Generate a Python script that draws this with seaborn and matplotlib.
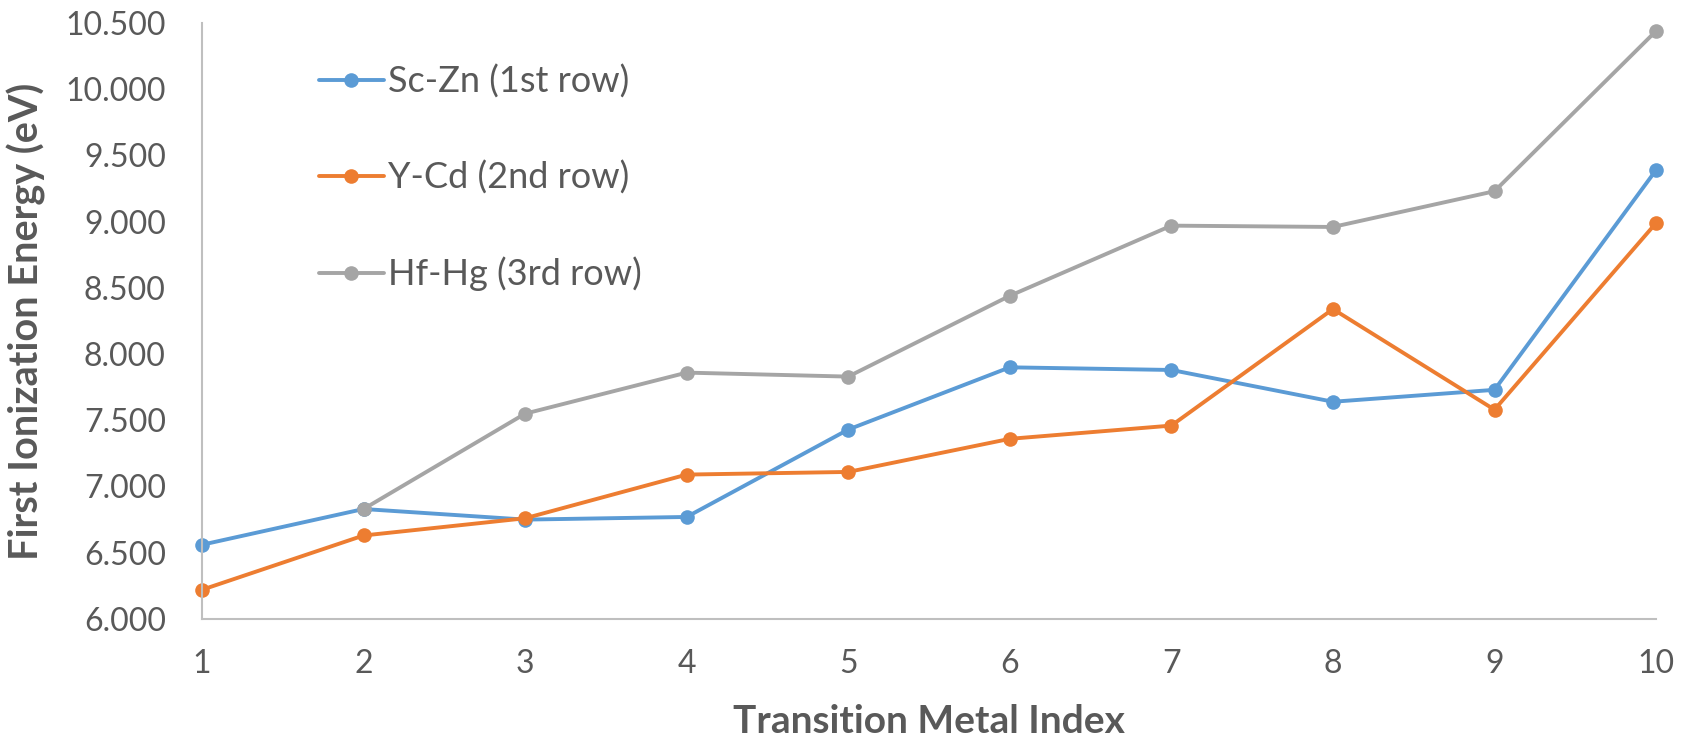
import matplotlib
matplotlib.use("Agg")
import matplotlib.pyplot as plt
import seaborn as sns
import pandas as pd
from matplotlib.ticker import FormatStrFormatter

# First ionization energies (eV) by position in each transition-metal row
index_1st = [1, 2, 3, 4, 5, 6, 7, 8, 9, 10]
sc_zn = [6.56, 6.83, 6.75, 6.77, 7.43, 7.90, 7.88, 7.64, 7.73, 9.39]

index_2nd = [1, 2, 3, 4, 5, 6, 7, 8, 9, 10]
y_cd = [6.22, 6.63, 6.76, 7.09, 7.11, 7.36, 7.46, 8.34, 7.58, 8.99]

index_3rd = [2, 3, 4, 5, 6, 7, 8, 9, 10]
hf_hg = [6.83, 7.55, 7.86, 7.83, 8.44, 8.97, 8.96, 9.23, 10.44]

series_names = ["Sc-Zn (1st row)", "Y-Cd (2nd row)", "Hf-Hg (3rd row)"]
series_colors = ["#5B9BD5", "#ED7D31", "#A5A5A5"]
x_ticks = list(range(1, 11))
y_ticks = [6.0, 6.5, 7.0, 7.5, 8.0, 8.5, 9.0, 9.5, 10.0, 10.5]

sns.set_style("white")
plt.rcParams["font.family"] = ["Lato", "DejaVu Sans"]

text_color = "#595959"
axis_color = "#BFBFBF"

fig = plt.figure(figsize=(16.83, 7.43), dpi=100)
ax = fig.add_axes([0.120, 0.167, 0.864, 0.802])

for xs, ys, name, color in zip(
    [index_1st, index_2nd, index_3rd],
    [sc_zn, y_cd, hf_hg],
    series_names,
    series_colors,
):
    df = pd.DataFrame({"index": xs, "energy": ys})
    sns.lineplot(
        data=df, x="index", y="energy", ax=ax, color=color, label=name,
        linewidth=2.8, marker="o", markersize=10.5, markeredgewidth=0,
        clip_on=False, legend=False,
    )

ax.set_xlim(1, 10)
ax.set_ylim(6.0, 10.5)
ax.set_xticks(x_ticks)
ax.set_yticks(y_ticks)
ax.yaxis.set_major_formatter(FormatStrFormatter("%.3f"))

for side in ["top", "right"]:
    ax.spines[side].set_visible(False)
for side in ["left", "bottom"]:
    ax.spines[side].set_color(axis_color)
    ax.spines[side].set_linewidth(1.5)

ax.tick_params(axis="both", direction="in", length=7, width=1.5,
               color=axis_color, labelcolor=text_color, labelsize=23)
ax.tick_params(axis="y", pad=26)
ax.tick_params(axis="x", pad=22)

ax.set_xlabel("Transition Metal Index", fontsize=28, fontweight="bold",
              color=text_color, labelpad=18)
ax.set_ylabel("First Ionization Energy (eV)", fontsize=28.5, fontweight="bold",
              color=text_color, labelpad=14)

handles, labels = ax.get_legend_handles_labels()
leg = ax.legend(
    handles, labels, loc="upper left", bbox_to_anchor=(0.058, 0.985),
    frameon=False, fontsize=26, handlelength=1.8, handletextpad=0.12,
    labelspacing=1.72,
)
for t in leg.get_texts():
    t.set_color(text_color)

fig.savefig("out.png", dpi=100, facecolor="white")
